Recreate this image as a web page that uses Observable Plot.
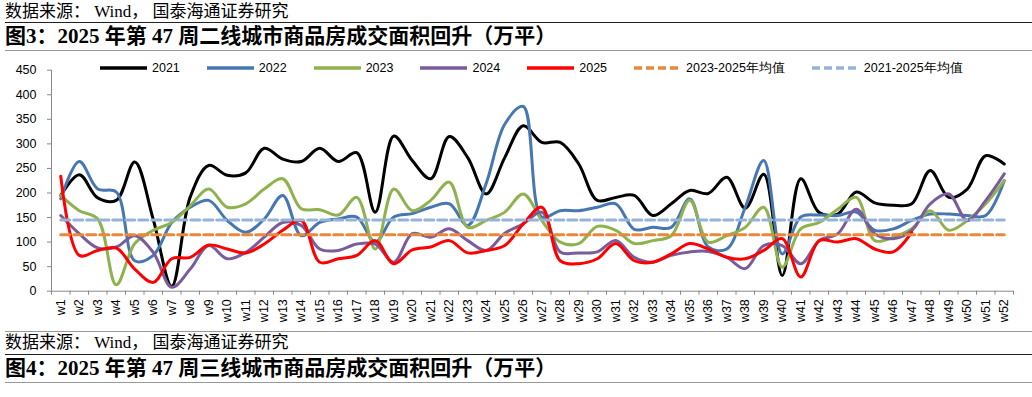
<!DOCTYPE html>
<html>
<head>
<meta charset="utf-8">
<script src="https://cdn.jsdelivr.net/npm/d3@7"></script>
<script src="https://cdn.jsdelivr.net/npm/@observablehq/plot@0.6"></script>
<style>
  html, body { margin: 0; padding: 0; background: #fff; }
  body { width: 1032px; height: 397px; position: relative; overflow: hidden; }
  .src { position: absolute; left: 5px; font-family: "Liberation Serif", "Noto Sans CJK SC", serif; font-size: 17px; color: #000; line-height: 1; white-space: pre; }
  .ttl { position: absolute; left: 5px; font-family: "Liberation Serif", "Noto Sans CJK SC", serif; font-weight: bold; font-size: 21px; color: #000; line-height: 1; }
  .hr { position: absolute; left: 5px; right: 0; }
  .dark { border-top: 1.5px solid #222; }
  .gray { border-top: 1.5px solid #999; }
  #chart { position: absolute; left: 0; top: 55px; }
  #legend { position: absolute; left: 100px; top: 60px; display: flex; align-items: center; height: 16px;
            font-family: "Liberation Sans", Arial, sans-serif; font-size: 12.5px; color: #000; white-space: nowrap; }
  #legend .item { display: flex; align-items: center; margin-right: 27px; }
  #legend svg { margin-right: 5px; }
</style>
</head>
<body>
<div class="src" style="top:3px">数据来源： Wind， 国泰海通证券研究</div>
<div class="hr dark" style="top:22px"></div>
<div class="ttl" style="top:26px">图3：2025 年第 47 周二线城市商品房成交面积回升（万平）</div>
<div class="hr gray" style="top:50px"></div>
<div id="chart"></div>
<div id="legend"></div>
<div class="hr gray" style="top:331px"></div>
<div class="src" style="top:334px">数据来源： Wind， 国泰海通证券研究</div>
<div class="hr dark" style="top:354px"></div>
<div class="ttl" style="top:358px">图4：2025 年第 47 周三线城市商品房成交面积回升（万平）</div>
<div class="hr gray" style="top:382px"></div>
<script>
const weeks = d3.range(1, 53);
const weekLabels = weeks.map(w => "w" + w);
const yTicks = [0, 50, 100, 150, 200, 250, 300, 350, 400, 450];

const s2021 = [195,237,190,185,263,146,10,192,256,236,241,291,269,264,291,264,282,161,316,266,229,315,272,198,272,337,303,303,259,185,191,195,154,178,205,199,232,169,238,32,229,160,157,202,180,175,178,246,191,208,276,259];
const s2022 = [188,264,208,202,62,73,140,171,185,144,120,147,195,113,140,147,151,100,151,158,171,178,134,220,340,376,151,164,164,171,178,126,130,130,188,90,86,171,266,76,151,155,154,161,124,127,144,157,157,154,154,225];
const s2023 = [195,164,147,13,97,124,140,174,208,171,178,208,229,168,166,155,191,86,208,164,185,222,130,144,161,198,144,100,97,132,124,97,103,113,185,100,113,130,171,49,127,140,167,191,103,110,127,164,124,144,178,225];
const s2024 = [154,117,88,90,113,79,8,45,93,66,79,110,140,134,86,83,96,96,59,117,110,127,103,83,118,137,161,80,78,80,103,69,59,73,80,81,69,46,93,93,56,103,117,167,117,107,124,178,198,144,185,239];
const s2025 = [234,73,83,88,45,18,66,69,94,86,78,96,124,144,59,66,73,103,56,84,90,103,78,83,93,137,171,62,56,66,97,62,59,76,97,86,69,66,83,107,29,103,100,107,86,80,120];
const avg2325 = 115;
const avg2125 = 145;

const seriesNames = ["2021", "2022", "2023", "2024", "2025"];
const seriesValues = [s2021, s2022, s2023, s2024, s2025];
const seriesColors = ["#000000", "#4677B3", "#8FB24F", "#7A5C9C", "#FF0000"];
const avgNames = ["2023-2025年均值", "2021-2025年均值"];
const avgValues = [avg2325, avg2125];
const avgColors = ["#E8883A", "#95B3D7"];

const rows = [];
seriesNames.forEach((name, i) => {
  seriesValues[i].forEach((v, j) => rows.push({name, week: weeks[j], value: v}));
});
const avgRows = [];
avgNames.forEach((name, i) => {
  weeks.forEach(w => avgRows.push({name, week: w, value: avgValues[i]}));
});
const boundaries = weeks.map(w => w - 0.5).concat([52.5]);

const chart = Plot.plot({
  width: 1032,
  height: 275,
  marginLeft: 51,
  marginRight: 19,
  marginTop: 14.7,
  marginBottom: 39.3,
  style: {fontFamily: "'Liberation Sans', Arial, sans-serif", fontSize: "12.5px", color: "#000", background: "transparent"},
  x: {domain: [0.5, 52.5]},
  y: {domain: [0, 450]},
  marks: [
    Plot.ruleX([0.5], {y1: 0, y2: 450, stroke: "#888", strokeWidth: 1}),
    Plot.ruleY([0], {x1: 0.5, x2: 52.5, stroke: "#888", strokeWidth: 1}),
    Plot.axisY({ticks: yTicks, tickSize: 4, tickPadding: 11, stroke: "#888", fill: "#000", label: null, fontSize: 12.5}),
    Plot.axisX({ticks: boundaries, tickSize: 4, tickFormat: () => "", stroke: "#888", label: null}),
    Plot.axisX({ticks: weeks, tickSize: 0, tickPadding: 8, tickRotate: -90, tickFormat: w => weekLabels[w - 1], fill: "#000", label: null, fontSize: 12.5}),
    Plot.line(rows, {x: "week", y: "value", z: "name", stroke: d => seriesColors[seriesNames.indexOf(d.name)], strokeWidth: 3, curve: "catmull-rom"}),
    Plot.line(avgRows, {x: "week", y: "value", z: "name", stroke: d => avgColors[avgNames.indexOf(d.name)], strokeWidth: 3, strokeDasharray: "9,4"})
  ]
});
document.getElementById("chart").appendChild(chart);

const legend = document.getElementById("legend");
const items = seriesNames.map((n, i) => ({name: n, color: seriesColors[i], dash: null}))
  .concat(avgNames.map((n, i) => ({name: n, color: avgColors[i], dash: "8,4"})));
items.forEach(it => {
  const div = document.createElement("div");
  div.className = "item";
  div.innerHTML = `<svg width="47" height="6"><line x1="0" y1="3" x2="47" y2="3" stroke="${it.color}" stroke-width="3.5" ${it.dash ? `stroke-dasharray="${it.dash}"` : 'stroke-linecap="round"'}/></svg><span>${it.name}</span>`;
  legend.appendChild(div);
});
</script>
</body>
</html>
